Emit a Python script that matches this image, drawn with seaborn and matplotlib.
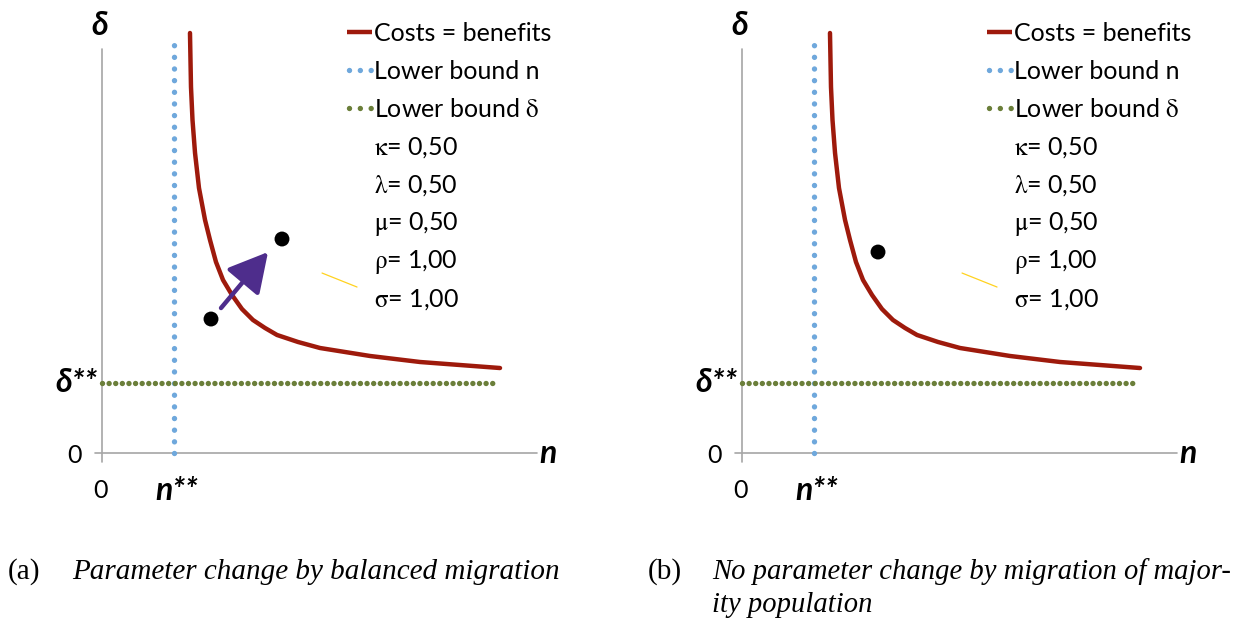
import matplotlib
matplotlib.use("Agg")
import matplotlib.pyplot as plt
import seaborn as sns
import pandas as pd

sns.set_style("white")
plt.rcParams["font.family"] = ["Lato", "DejaVu Sans"]
plt.rcParams["mathtext.fontset"] = "stix"
plt.rcParams["text.color"] = "black"

# Iso-line where costs equal benefits (n, delta)
curve_n = [1.222, 1.236, 1.257, 1.292, 1.347, 1.431, 1.500, 1.583, 1.681, 1.806, 1.944,
           2.097, 2.264, 2.431, 2.722, 3.028, 3.375, 3.722, 4.417, 4.972, 5.528]
curve_delta = [6.000, 5.229, 4.757, 4.286, 3.786, 3.329, 3.043, 2.729, 2.471, 2.257, 2.057,
               1.900, 1.786, 1.686, 1.586, 1.500, 1.443, 1.386, 1.300, 1.257, 1.214]

n_star = 1.0        # lower bound of n
delta_star = 1.0    # lower bound of delta
n_max = 5.5
delta_max = 5.94

# Situation points
points_a_n = [1.514, 2.500]
points_a_delta = [1.914, 3.057]
points_b_n = [1.889]
points_b_delta = [2.871]

# Shift caused by balanced migration
arrow_from = (1.653, 2.071)
arrow_to = (2.306, 2.871)

# Small leader line next to the parameter block
leader_n = [3.056, 3.542]
leader_delta = [2.571, 2.371]

legend_labels = ["Costs = benefits", "Lower bound n", r"Lower bound $\mathrm{\delta}$",
                 r"$\mathrm{\kappa}$= 0,50", r"$\mathrm{\lambda}$= 0,50",
                 r"$\mathrm{\mu}$= 0,50", r"$\mathrm{\rho}$= 1,00", r"$\mathrm{\sigma}$= 1,00"]

captions = [("(a)", ["Parameter change by balanced migration"]),
            ("(b)", ["No parameter change by migration of major-", "ity population"])]

RED = "#9E1A0C"
BLUE = "#6FA8DC"
GREEN = "#6B7F3A"
PURPLE = "#4E2D8C"
AXIS = "#A6A6A6"
DOT_LW = 3.9
DOT = (0, (0.001, 2.15))
DOT_DENSE = (0, (0.001, 1.22))

W, H = 1239, 623
fig = plt.figure(figsize=(W / 100, H / 100), dpi=100)

curve_df = pd.DataFrame({"n": curve_n, "delta": curve_delta})


def fx(px):
    return px / W


def fy(py):
    return 1 - py / H


def draw_panel(ax, pts_n, pts_delta, with_arrow, shift):
    ax.set_xlim(-0.2, 6.1)
    ax.set_ylim(-0.2, 6.1)
    ax.axis("off")
    # axes lines
    ax.plot([-0.1, 6.04], [0, 0], color=AXIS, lw=1.2, clip_on=False)
    ax.plot([0, 0], [-0.13, 5.77], color=AXIS, lw=1.2, clip_on=False)
    # lower bounds
    ax.plot([n_star, n_star], [0, delta_max], color=BLUE, lw=DOT_LW,
            linestyle=DOT, dash_capstyle="round")
    ax.plot([0, n_max], [delta_star, delta_star], color=GREEN, lw=DOT_LW,
            linestyle=DOT_DENSE, dash_capstyle="round")
    # costs = benefits
    sns.lineplot(data=curve_df, x="n", y="delta", ax=ax, color=RED, lw=3.2,
                 sort=False, estimator=None, legend=False)
    ax.plot(leader_n, leader_delta, color="#FFD21F", lw=0.9)
    if with_arrow:
        ax.annotate("", xy=arrow_to, xytext=arrow_from,
                    arrowprops=dict(arrowstyle="-|>,head_length=1.2,head_width=0.65",
                                    color=PURPLE, lw=3.2, mutation_scale=20,
                                    shrinkA=0, shrinkB=0))
    sns.scatterplot(x=pts_n, y=pts_delta, ax=ax, color="black", s=115,
                    edgecolor="none", zorder=5)
    ax.set_xlabel("")
    ax.set_ylabel("")

    # axis annotations
    bi = dict(fontsize=23, fontweight="bold", fontstyle="italic")
    ax.text(-0.03, 6.11, "δ", ha="center", va="center", **bi)
    ax.text(6.2, -0.01, "n", ha="center", va="center", **bi)
    ax.text(-0.07, delta_star, "δ**", ha="right", va="center", **bi)
    ax.text(n_star + 0.04, -0.53, "n**", ha="center", va="center", **bi)
    ax.text(-0.38, -0.03, "0", ha="center", va="center", fontsize=18)
    ax.text(-0.02, -0.53, "0", ha="center", va="center", fontsize=18)

    # key: line samples followed by the parameter values
    styles = [dict(color=RED, lw=3.2, solid_capstyle="butt"),
              dict(color=BLUE, lw=DOT_LW, linestyle=(0, (0.001, 2.0)),
                   dash_capstyle="round"),
              dict(color=GREEN, lw=DOT_LW, linestyle=(0, (0.001, 2.0)),
                   dash_capstyle="round")]
    for i, label in enumerate(legend_labels):
        yc = 32 + 37.9 * i
        if i < len(styles):
            x0 = 349 + shift if i else 347 + shift
            fig.add_artist(plt.Line2D([fx(x0), fx(372 + shift)], [fy(yc), fy(yc)],
                                      **styles[i]))
        fig.text(fx(374 + shift), fy(yc + 9), label, fontsize=18,
                 ha="left", va="baseline")


ax_pos = [87.6 / W, (H - 467) / H, 453.6 / W, 441 / H]
ax_a = fig.add_axes(ax_pos)
ax_b = fig.add_axes([ax_pos[0] + 640 / W] + ax_pos[1:])
draw_panel(ax_a, points_a_n, points_a_delta, True, 0)
draw_panel(ax_b, points_b_n, points_b_delta, False, 640)

serif = ["Liberation Serif", "DejaVu Serif"]
for i, (tag, lines) in enumerate(captions):
    x0 = 8 + 640 * i
    fig.text(fx(x0), fy(572), tag, family=serif, fontsize=21,
             ha="left", va="center")
    for j, line in enumerate(lines):
        fig.text(fx(x0 + 64), fy(572 + 33 * j), line, family=serif,
                 fontsize=21 if i == 0 else 20.6, fontstyle="italic",
                 ha="left", va="center")

fig.savefig("out.png", dpi=100)
